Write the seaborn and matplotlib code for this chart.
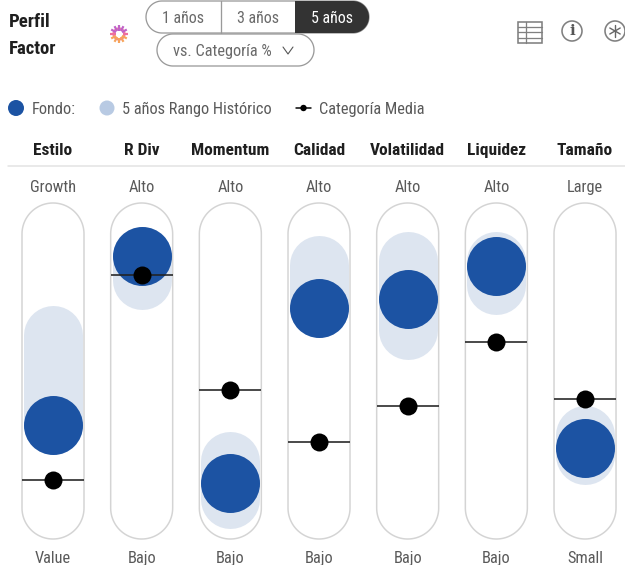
import matplotlib
matplotlib.use("Agg")
import matplotlib.pyplot as plt
import seaborn as sns
import pandas as pd
import numpy as np
from matplotlib.patches import Rectangle, Circle, Polygon
from matplotlib import font_manager as fm

# ---- data (0-100 score inside each pill)
factors = ["Estilo", "R Div", "Momentum", "Calidad", "Volatilidad", "Liquidez", "Tamaño"]
top_labels = ["Growth", "Alto", "Alto", "Alto", "Alto", "Alto", "Large"]
bottom_labels = ["Value", "Bajo", "Bajo", "Bajo", "Bajo", "Bajo", "Small"]
fund = [30.3, 92.0, 9.1, 73.0, 76.3, 88.3, 21.9]
range_low = [30.3, 83.2, 3.3, 73.0, 65.0, 81.4, 19.4]
range_high = [63.0, 92.0, 17.2, 88.7, 90.0, 90.0, 26.6]
category = [10.2, 84.9, 43.0, 24.1, 37.4, 60.6, 39.6]
periods = ["1 años", "3 años", "5 años"]

FW, FH = 625, 565
sns.set_theme(style="white")
avail = {f.name for f in fm.fontManager.ttflist}
family = next((n for n in ["Roboto Condensed", "Archivo Narrow", "Liberation Sans Narrow", "Roboto"]
               if n in avail), "DejaVu Sans")
plt.rcParams["font.family"] = [family, "DejaVu Sans"]

fig = plt.figure(figsize=(FW / 100, FH / 100), dpi=100, facecolor="white")
px = 72 / 100


def pill_xy(left, right, top, bottom, n=40):
    """Outline of a stadium with true circular ends (pixel coordinates, y down)."""
    r = min(right - left, bottom - top) / 2
    pts = []
    for cx, cy, a0 in [(right - r, top + r, -90), (right - r, bottom - r, 0),
                       (left + r, bottom - r, 90), (left + r, top + r, 180)]:
        a = np.radians(np.linspace(a0, a0 + 90, n))
        pts.append(np.column_stack([cx + r * np.cos(a), cy + r * np.sin(a)]))
    return np.vstack(pts)


# chrome axes in pixel coordinates
bg = fig.add_axes([0, 0, 1, 1], zorder=0)
bg.set_xlim(0, FW)
bg.set_ylim(FH, 0)
bg.axis("off")

# data axes: x = factor index, y = score
ax = fig.add_axes([0, 0, 1, 1], zorder=1)
ax.patch.set_alpha(0)
x0, dx = 53.0, 88.67
ax.set_xlim(-x0 / dx, (FW - x0) / dx)
y0, dy = 508.0, 2.74
ax.set_ylim((y0 - FH) / dy, y0 / dy)

TXT = "#5a5a5a"
DARK = "#1f1f1f"
FS = 11.8
xpos = list(range(len(factors)))
centers = [x0 + dx * i for i in xpos]

# pills
for c in centers:
    bg.add_patch(Polygon(pill_xy(c - 31, c + 31, 203, 539), closed=True,
                         fc="white", ec="#d4d4d4", lw=1.5 * px))

# historic range as round-capped thick strokes
for i in xpos:
    ax.plot([i, i], [range_low[i], range_high[i]], color="#dde5f0",
            lw=59 * px, solid_capstyle="round", zorder=2)

df = pd.DataFrame({"x": xpos, "fund": fund, "category": category})
sns.scatterplot(data=df, x="x", y="fund", ax=ax, s=(59 * px) ** 2, color="#1c53a3",
                linewidth=0, zorder=3, legend=False)
ax.hlines(category, [i - 31 / dx for i in xpos], [i + 31 / dx for i in xpos],
          color="#222222", lw=1.6 * px, zorder=4)
sns.scatterplot(data=df, x="x", y="category", ax=ax, s=(18 * px) ** 2, color="black",
                linewidth=0, zorder=5, legend=False)
ax.set_xlabel("")
ax.set_ylabel("")
ax.axis("off")

# column text
for c, f, t, b in zip(centers, factors, top_labels, bottom_labels):
    bg.text(c, 149, f, ha="center", va="center_baseline", fontsize=12.5, fontweight="bold", color=DARK)
    bg.text(c, 186, t, ha="center", va="center_baseline", fontsize=FS, color=TXT)
    bg.text(c, 557, b, ha="center", va="center_baseline", fontsize=FS, color=TXT)
bg.plot([8, 625], [166, 166], color="#e2e2e2", lw=1.5 * px)

# title
bg.text(9, 20, "Perfil", ha="left", va="center_baseline", fontsize=13.5, fontweight="bold", color=DARK)
bg.text(9, 47, "Factor", ha="left", va="center_baseline", fontsize=13.5, fontweight="bold", color=DARK)

# sun icon: gear teeth shaded purple (top) to orange (bottom)
sx, sy = 119, 34
for ang in np.radians(np.arange(0, 360, 30)):
    ty = np.sin(ang)
    col = "#c062c8" if ty < -0.4 else ("#ee6f9e" if ty < 0.4 else "#f7a45a")
    bg.plot([sx + 3.5 * np.cos(ang), sx + 9 * np.cos(ang)],
            [sy + 3.5 * ty, sy + 9 * ty], color=col, lw=2.2 * px, solid_capstyle="butt")
bg.add_patch(Circle((sx, sy), 5.5, fc="none", ec="#ee7fa0", lw=2.2 * px))
bg.add_patch(Circle((sx, sy), 3.2, fc="white", ec="none"))

# period selector
L, R, T, B = 146, 369, 1, 33
outline = Polygon(pill_xy(L, R, T, B), closed=True, fc="white", ec="#9a9a9a", lw=1.3 * px, zorder=2)
bg.add_patch(outline)
dark = Rectangle((295, T), R - 295, B - T, fc="#333333", ec="none", zorder=3)
bg.add_patch(dark)
dark.set_clip_path(outline)
bg.plot([221, 221], [T, B], color="#9a9a9a", lw=1.3 * px, zorder=3)
for xc, p, col in zip([183, 258, 332], periods, ["#6a6a6a", "#6a6a6a", "white"]):
    bg.text(xc, 17, p, ha="center", va="center_baseline", fontsize=11.5, color=col, zorder=4)

# dropdown
bg.add_patch(Polygon(pill_xy(157, 314, 34, 66), closed=True, fc="white", ec="#9a9a9a",
                     lw=1.3 * px, zorder=3))
bg.text(173, 50, "vs. Categoría %", ha="left", va="center_baseline", fontsize=FS, color="#6a6a6a", zorder=4)
bg.plot([283, 288, 293], [47, 54, 47], color="#555555", lw=1.1 * px, zorder=4)

# right icons
ICON = "#808080"
bg.add_patch(Rectangle((518, 21.5), 24, 21.5, fc="none", ec=ICON, lw=1.6 * px))
for yy in [26.5, 32, 37.5]:
    bg.plot([518, 542], [yy, yy], color=ICON, lw=1.3 * px)
bg.plot([525.5, 525.5], [21.5, 43], color=ICON, lw=1.3 * px)
bg.add_patch(Circle((572, 31), 10, fc="none", ec=ICON, lw=1.6 * px))
bg.text(572, 31, "i", ha="center", va="center", fontsize=11, fontweight="bold",
        family="DejaVu Serif", color="#555555")
bg.add_patch(Circle((615, 31), 10, fc="none", ec=ICON, lw=1.6 * px))
for ang in np.radians([90, 30, 150]):
    bg.plot([615 - 6 * np.cos(ang), 615 + 6 * np.cos(ang)],
            [31 - 6 * np.sin(ang), 31 + 6 * np.sin(ang)], color="#666666", lw=1.4 * px)

# legend
bg.add_patch(Circle((16, 108), 8, fc="#1c53a3", ec="none"))
bg.text(32, 108, "Fondo:", ha="left", va="center_baseline", fontsize=FS, color=TXT)
bg.add_patch(Circle((107, 108), 7.5, fc="#b8cae3", ec="none"))
bg.text(122, 108, "5 años Rango Histórico", ha="left", va="center_baseline", fontsize=FS, color=TXT)
bg.plot([296, 311], [108, 108], color="black", lw=1.5 * px)
bg.add_patch(Circle((303.5, 108), 3.2, fc="black", ec="none"))
bg.text(319, 108, "Categoría Media", ha="left", va="center_baseline", fontsize=FS, color=TXT)

fig.savefig("out.png", dpi=100, facecolor="white")
